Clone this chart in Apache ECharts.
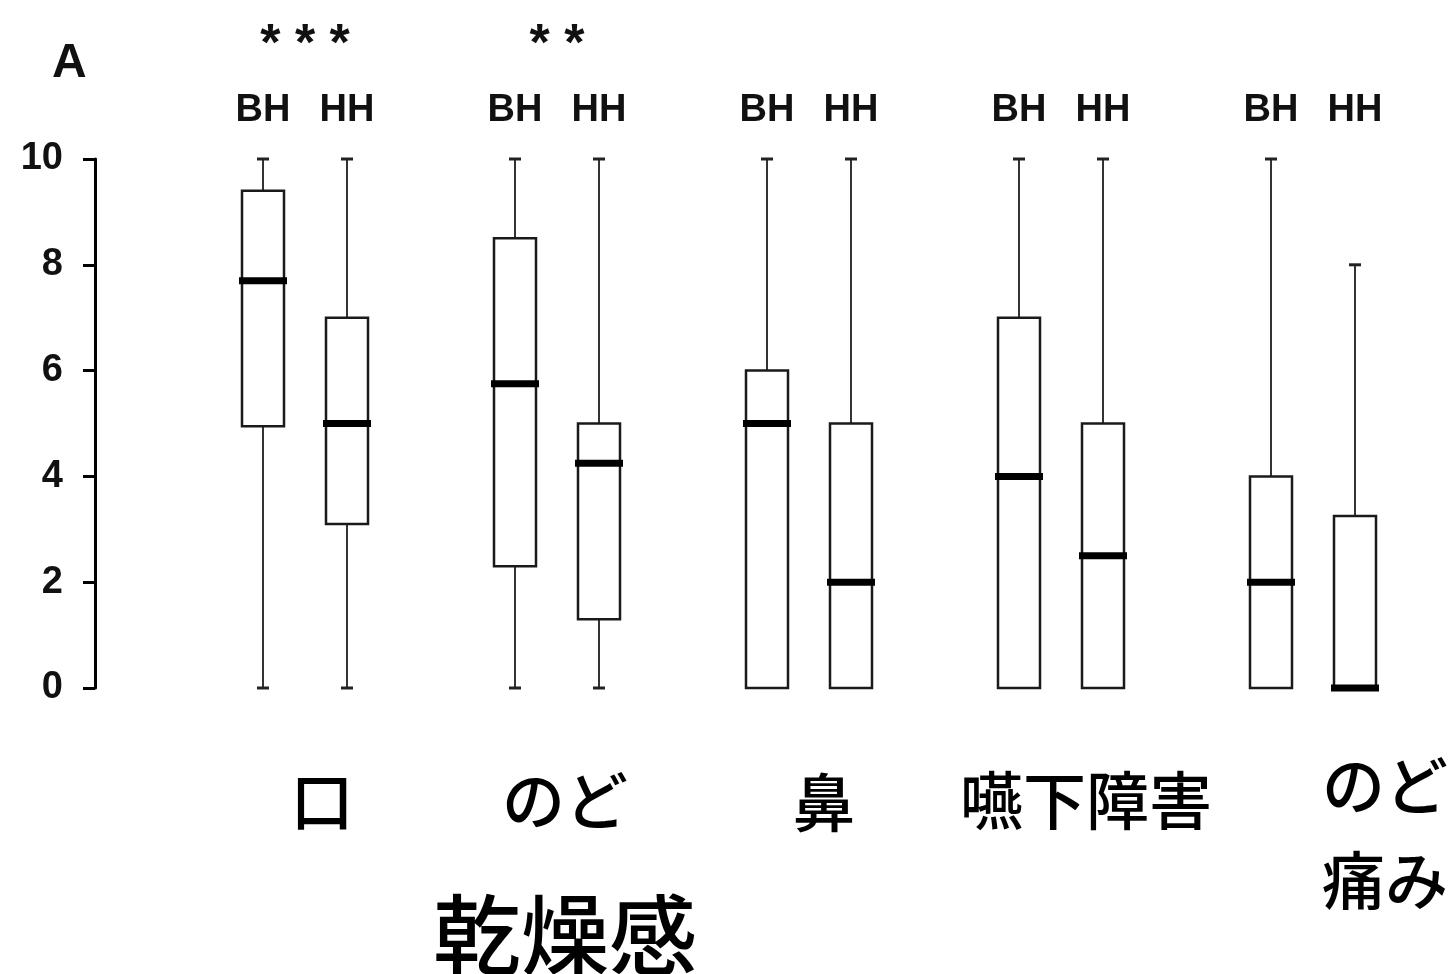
<!DOCTYPE html>
<html>
<head>
<meta charset="utf-8">
<script src="https://cdn.jsdelivr.net/npm/echarts@6/dist/echarts.min.js"></script>
<style>
html,body{margin:0;padding:0;background:#fff;}
#chart{width:1451px;height:974px;}
</style>
</head>
<body>
<div id="chart"></div>
<script>
// ---- data ----
const groups = ['口', 'のど', '鼻', '嚥下障害', 'のど痛み'];
const pairLabels = ['BH', 'HH'];
const significance = ['* * *', '* *', '', '', ''];
const yTicks = [0, 2, 4, 6, 8, 10];

const bhMin = [0, 0, 0, 0, 0];
const bhQ1  = [4.95, 2.3, 0, 0, 0];
const bhMed = [7.7, 5.75, 5, 4, 2];
const bhQ3  = [9.4, 8.5, 6, 7, 4];
const bhMax = [10, 10, 10, 10, 10];

const hhMin = [0, 0, 0, 0, 0];
const hhQ1  = [3.1, 1.3, 0, 0, 0];
const hhMed = [5, 4.25, 2, 2.5, 0];
const hhQ3  = [7, 5, 5, 5, 3.25];
const hhMax = [10, 10, 10, 10, 8];

// ---- build ----
const LATIN = "'Liberation Sans', Arial, sans-serif";
const CJKFONT = "500 63px 'Noto Sans CJK JP'";

const boxData = [];
const topLabelMap = {};
const starMap = {};
groups.forEach((g, i) => {
  const xb = 2 + 3 * i, xh = 3 + 3 * i;
  boxData.push([xb, bhMin[i], bhQ1[i], bhMed[i], bhQ3[i], bhMax[i]]);
  boxData.push([xh, hhMin[i], hhQ1[i], hhMed[i], hhQ3[i], hhMax[i]]);
  topLabelMap[xb] = pairLabels[0];
  topLabelMap[xh] = pairLabels[1];
  starMap[(xb + xh) / 2] = significance[i];
});

function renderItem(params, api) {
  const x = api.value(0);
  const mn = api.value(1), q1 = api.value(2), md = api.value(3), q3 = api.value(4), mx = api.value(5);
  const cx = api.coord([x, md])[0];
  const half = api.size([0.5, 0])[0] / 2;
  const y = v => api.coord([x, v])[1];
  const children = [];
  const wStyle = { stroke: '#333', lineWidth: 2 };
  if (mx > q3) {
    children.push({ type: 'line', shape: { x1: cx, y1: y(q3), x2: cx, y2: y(mx) }, style: wStyle });
    children.push({ type: 'line', shape: { x1: cx - 6, y1: y(mx), x2: cx + 6, y2: y(mx) }, style: { stroke: '#222', lineWidth: 3 } });
  }
  if (mn < q1) {
    children.push({ type: 'line', shape: { x1: cx, y1: y(q1), x2: cx, y2: y(mn) }, style: wStyle });
    children.push({ type: 'line', shape: { x1: cx - 6, y1: y(mn), x2: cx + 6, y2: y(mn) }, style: { stroke: '#222', lineWidth: 3 } });
  }
  children.push({
    type: 'rect',
    shape: { x: cx - half, y: y(q3), width: 2 * half, height: y(q1) - y(q3) },
    style: { fill: '#fff', stroke: '#1a1a1a', lineWidth: 2.5 }
  });
  children.push({
    type: 'line',
    shape: { x1: cx - half - 3, y1: y(md), x2: cx + half + 3, y2: y(md) },
    style: { stroke: '#000', lineWidth: 7 }
  });
  return { type: 'group', children };
}

const chart = echarts.init(document.getElementById('chart'), null, { renderer: 'canvas' });
chart.setOption({
  backgroundColor: '#fff',
  animation: false,
  grid: { left: 95, right: 96, top: 159, bottom: 286, containLabel: false },
  xAxis: [
    {
      type: 'value', position: 'top', min: 0, max: 15, interval: 1,
      axisLine: { show: false }, axisTick: { show: false }, splitLine: { show: false },
      axisLabel: {
        margin: 48, verticalAlign: 'middle',
        fontFamily: LATIN, fontWeight: 'bold', fontSize: 38, color: '#111',
        formatter: v => topLabelMap[v] || ''
      }
    },
    {
      type: 'value', position: 'top', min: 0, max: 15, interval: 0.5,
      axisLine: { show: false }, axisTick: { show: false }, splitLine: { show: false },
      axisLabel: {
        margin: 113, verticalAlign: 'middle',
        fontFamily: LATIN, fontWeight: 'bold', fontSize: 52, color: '#111',
        formatter: v => starMap[v] || ''
      }
    }
  ],
  yAxis: {
    type: 'value', min: 0, max: 10, interval: 2,
    axisLine: { show: true, lineStyle: { color: '#000', width: 3 } },
    axisTick: { show: true, length: 12, lineStyle: { color: '#000', width: 3 } },
    splitLine: { show: false },
    axisLabel: {
      margin: 32, fontFamily: LATIN, fontWeight: 'bold', fontSize: 38, color: '#111',
      formatter: v => (yTicks.indexOf(v) >= 0 ? String(v) : '')
    }
  },
  series: [{
    type: 'custom',
    xAxisIndex: 0,
    renderItem: renderItem,
    clip: false,
    encode: { x: 0, y: [1, 2, 3, 4, 5] },
    data: boxData
  }],
  graphic: [
    { type: 'text', left: 52, top: 40, style: { text: 'A', font: "bold 48px 'Liberation Sans', Arial", fill: '#111' } },
    { type: 'text', x: 322, y: 801, style: { text: groups[0], font: CJKFONT, fill: '#000', align: 'center', verticalAlign: 'middle' } },
    { type: 'text', x: 565, y: 800, style: { text: groups[1], font: CJKFONT, fill: '#000', align: 'center', verticalAlign: 'middle' } },
    { type: 'text', x: 824, y: 802, style: { text: groups[2], font: CJKFONT, fill: '#000', align: 'center', verticalAlign: 'middle' } },
    { type: 'text', x: 1086, y: 800, style: { text: groups[3], font: CJKFONT, fill: '#000', align: 'center', verticalAlign: 'middle' } },
    { type: 'text', x: 1322, y: 785, style: { text: groups[4].slice(0, 2), font: CJKFONT, fill: '#000', align: 'left', verticalAlign: 'middle' } },
    { type: 'text', x: 1322, y: 880, style: { text: groups[4].slice(2), font: CJKFONT, fill: '#000', align: 'left', verticalAlign: 'middle' } },
    { type: 'text', x: 565, y: 935, style: { text: '乾燥感', font: "500 88px 'Noto Sans CJK JP'", fill: '#000', align: 'center', verticalAlign: 'middle' } }
  ]
});
</script>
</body>
</html>
